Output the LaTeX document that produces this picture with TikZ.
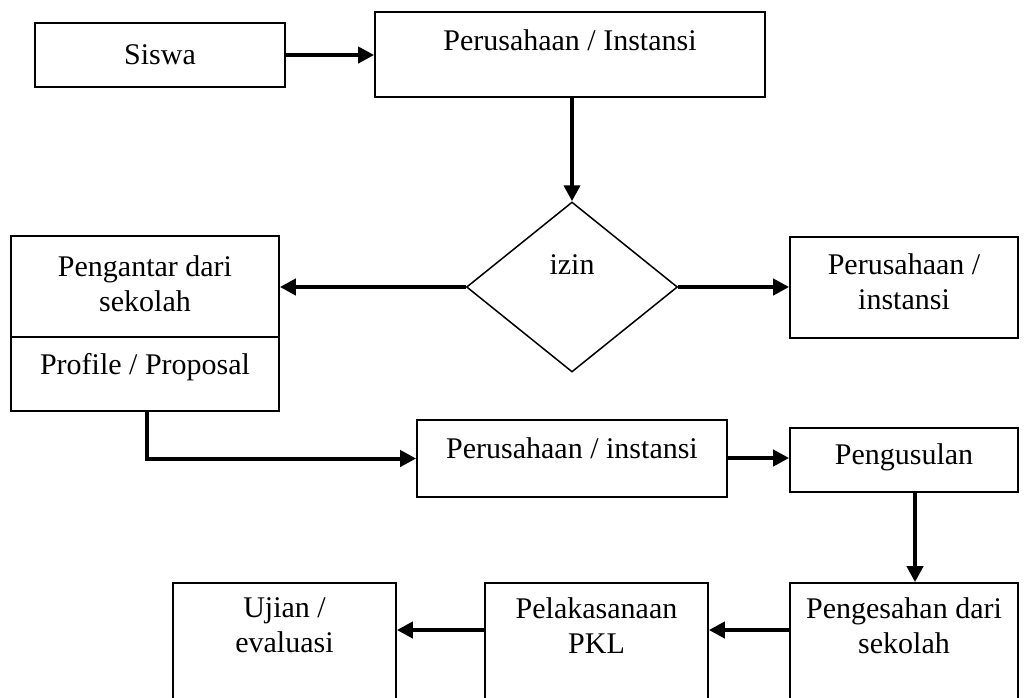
\documentclass[tikz,border=0pt]{standalone}
\usepackage{fontspec}
\setmainfont{Liberation Serif}
\usetikzlibrary{arrows.meta,shapes.geometric,calc}
\begin{document}
\begin{tikzpicture}[x=1pt,y=-1pt,
  box/.style={draw, line width=1.7pt, rectangle, inner sep=0pt},
  lbl/.style={align=center, inner sep=0pt, font=\fontsize{30}{35}\selectfont},
  flow/.style={line width=4pt, -{Triangle[length=16pt,width=16pt]}},
]
\fill[white] (0,0) rectangle (1031,697);
\clip (0,0) rectangle (1031,697);

% top row
\node[box, minimum width=250, minimum height=64] (siswa) at (160,55) {};
\node[lbl] (siswaT) at (160,55) {Siswa};
\node[box, minimum width=390, minimum height=85] (top) at (570,54.5) {};
\node[lbl] (topT) at (570,40) {Perusahaan / Instansi};

% decision
\node[draw, line width=1.5pt, diamond, inner sep=0pt,
      minimum width=211, minimum height=170] (izin) at (572,287) {};
\node[lbl] (izinT) at (572,265) {izin};

% left column boxes
\node[box, minimum width=268, minimum height=101] (pengantar) at (145,286.5) {};
\node[lbl] (pengantarT) at (145,283.5) {Pengantar dari\\sekolah};
\node[box, minimum width=268, minimum height=74] (profile) at (145,374) {};
\node[lbl] (profileT) at (145,367) {Profile / Proposal};

% right of decision
\node[box, minimum width=228, minimum height=101] (kanan) at (904,287.5) {};
\node[lbl] (kananT) at (904,282) {Perusahaan /\\instansi};

% middle row
\node[box, minimum width=310, minimum height=77] (mid) at (572,458.5) {};
\node[lbl] (midT) at (572,448) {Perusahaan / instansi};
\node[box, minimum width=228, minimum height=64] (usul) at (904,460) {};
\node[lbl] (usulT) at (904,457) {Pengusulan};

% bottom row
\node[box, minimum width=228, minimum height=136] (sah) at (904,651) {};
\node[lbl] (sahT) at (904,625.5) {Pengesahan dari\\sekolah};
\node[box, minimum width=223, minimum height=136] (pkl) at (596.5,651) {};
\node[lbl] (pklT) at (596.5,625.5) {Pelakasanaan\\PKL};
\node[box, minimum width=223, minimum height=136] (ujian) at (284.5,651) {};
\node[lbl] (ujianT) at (284.5,625.5) {Ujian /\\evaluasi};

% connectors
\draw[flow] (siswa.east) -- (siswa.east -| top.west);
\draw[flow] (top.south -| izin.north) -- (izin.north);
\draw[flow] (izin.west) -- (izin.west -| pengantar.east);
\draw[flow] (izin.east) -- (izin.east -| kanan.west);
\draw[flow] ($(profile.south)+(2,0)$) |- (mid.west);
\draw[flow] (mid.east |- 0,458) -- (usul.west |- 0,458);
\draw[flow] ($(usul.south)+(11,0)$) -- ($(sah.north)+(11,0)$);
\draw[flow] (sah.west |- 0,630) -- (pkl.east |- 0,630);
\draw[flow] (pkl.west |- 0,630) -- (ujian.east |- 0,630);
\end{tikzpicture}
\end{document}
